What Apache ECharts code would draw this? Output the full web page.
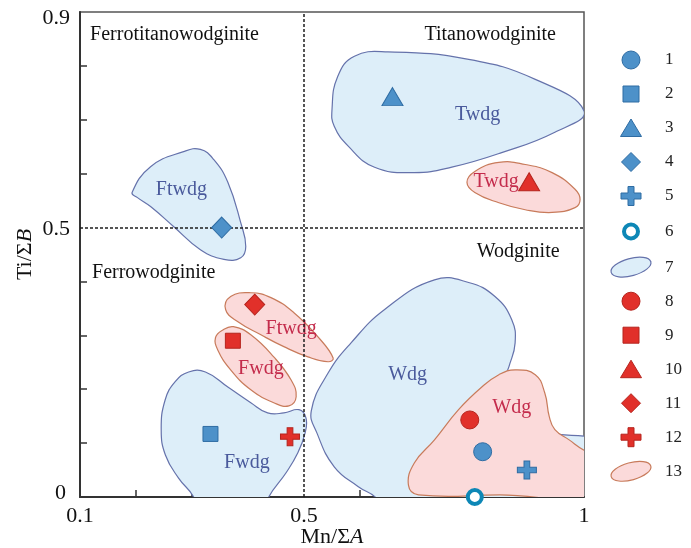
<!DOCTYPE html>
<html>
<head>
<meta charset="utf-8">
<title>Mn/ΣA vs Ti/ΣB</title>
<script src="https://cdn.jsdelivr.net/npm/echarts@6/dist/echarts.min.js"></script>
<style>
  html, body { margin: 0; padding: 0; background: #ffffff; }
  #chart { width: 691px; height: 548px; }
</style>
</head>
<body>
<div id="chart"></div>
<script>
// ---- axis ticks ----
const xLabelTicks = [0.1, 0.5, 1];
const xMinorTicks = [0.2, 0.3, 0.4, 0.6, 0.7, 0.8, 0.9];
const yLabelTicks = [0, 0.5, 0.9];
const yMinorTicks = [0.1, 0.2, 0.3, 0.4, 0.6, 0.7, 0.8];

// ---- field boundaries: Mn/ΣA = 0.5 and Ti/ΣB = 0.5 ----
const dividerX = 0.5;
const dividerY = 0.5;

// ---- analysed compositions [Mn/ΣA, Ti/ΣB] ----
const group1 = [[0.819, 0.084]];
const group2 = [[0.333, 0.117]];
const group3 = [[0.658, 0.743]];
const group4 = [[0.353, 0.500]];
const group5 = [[0.898, 0.050]];
const group6 = [[0.805, 0.000]];
const group8 = [[0.796, 0.143]];
const group9 = [[0.373, 0.290]];
const group10 = [[0.902, 0.585]];
const group11 = [[0.412, 0.357]];
const group12 = [[0.475, 0.112]];

// ---- composition fields, series 7 ----
const field7Names = ['Twdg', 'Ftwdg', 'Fwdg', 'Wdg'];
const field7LabelAt = [[0.810, 0.710], [0.281, 0.571], [0.398, 0.063], [0.685, 0.227]];
const field7Outlines = [
  [[0.550, 0.719], [0.560, 0.780], [0.590, 0.818], [0.650, 0.826], [0.794, 0.812], [0.913, 0.775],
   [1.000, 0.716], [0.948, 0.677], [0.853, 0.639], [0.764, 0.612], [0.697, 0.602], [0.626, 0.612],
   [0.579, 0.651], [0.554, 0.688]],
  [[0.193, 0.565], [0.226, 0.613], [0.285, 0.641], [0.315, 0.645], [0.339, 0.626], [0.364, 0.584],
   [0.387, 0.509], [0.396, 0.465], [0.387, 0.444], [0.357, 0.441], [0.315, 0.459], [0.267, 0.502],
   [0.226, 0.539], [0.202, 0.556]],
  [[0.310, -0.030], [0.303, 0.000], [0.276, 0.035], [0.2525, 0.078], [0.245, 0.125], [0.252, 0.180],
   [0.270, 0.214], [0.294, 0.232], [0.324, 0.232], [0.364, 0.204], [0.405, 0.175], [0.435, 0.156],
   [0.464, 0.156], [0.491, 0.162], [0.5035, 0.147], [0.502, 0.119], [0.489, 0.082], [0.468, 0.045],
   [0.437, 0.000], [0.430, -0.030]],
  [[0.629, -0.002], [0.597, 0.019], [0.554, 0.056], [0.523, 0.119], [0.513, 0.160], [0.543, 0.230],
   [0.584, 0.286], [0.644, 0.348], [0.733, 0.403], [0.794, 0.398], [0.841, 0.372], [0.871, 0.329],
   [0.877, 0.286], [0.866, 0.242], [0.853, 0.199], [0.889, 0.143], [0.943, 0.119], [1.000, 0.113],
   [1.030, 0.110], [1.030, -0.030], [0.640, -0.030]]
];

// ---- composition fields, series 13 ----
const field13Names = ['Twdg', 'Ftwdg', 'Fwdg', 'Wdg'];
const field13LabelAt = [[0.843, 0.585], [0.477, 0.312], [0.423, 0.238], [0.871, 0.165]];
const field13Outlines = [
  [[0.791, 0.584], [0.805, 0.604], [0.848, 0.621], [0.895, 0.617], [0.943, 0.602], [0.984, 0.571],
   [0.993, 0.552], [0.984, 0.537], [0.943, 0.528], [0.895, 0.533], [0.848, 0.546], [0.805, 0.565]],
  [[0.369, 0.372], [0.405, 0.379], [0.441, 0.370], [0.482, 0.342], [0.525, 0.297], [0.552, 0.258],
   [0.543, 0.251], [0.507, 0.260], [0.464, 0.279], [0.423, 0.301], [0.382, 0.325], [0.360, 0.348]],
  [[0.355, 0.310], [0.374, 0.316], [0.405, 0.301], [0.446, 0.260], [0.477, 0.217], [0.486, 0.186],
   [0.473, 0.169], [0.446, 0.175], [0.405, 0.199], [0.369, 0.236], [0.346, 0.273], [0.342, 0.296]],
  [[0.6865, 0.022], [0.697, 0.063], [0.733, 0.106], [0.776, 0.162], [0.8175, 0.204], [0.848, 0.227],
   [0.877, 0.236], [0.913, 0.227], [0.930, 0.193], [0.938, 0.149], [0.948, 0.125], [0.9735, 0.106],
   [1.000, 0.087], [1.030, 0.075], [1.030, 0.004], [0.850, 0.004], [0.7045, 0.004]]
];

// ---- quadrant names ----
const quadrantNames = ['Ferrotitanowodginite', 'Titanowodginite', 'Ferrowodginite', 'Wodginite'];
const quadrantAt = [[0.118, 0.857], [0.715, 0.857], [0.1215, 0.416], [0.8085, 0.455]];

// ---- styling ----
const FONT = '"Liberation Serif", "Times New Roman", serif';
const BLUE = '#4d91c9', BLUE_EDGE = '#2f6ca3';
const RED = '#e1302a', RED_EDGE = '#b5241d';
const TEAL = '#0d87b6';
const FIELD7 = { fill: '#ddeef9', stroke: '#6572ab', text: '#4a5a9c' };
const FIELD13 = { fill: '#fbdada', stroke: '#c87b5b', text: '#c42c4c' };
const PLUS = 'path://M7,0h6v7h7v6h-7v7h-6v-7h-7v-6h7z';

// legend icons share a 44x19 frame (two leading moves fix the bounds)
const FRAME = 'M0,0 M44,19 ';
const icon = {
  circle: 'path://' + FRAME + 'M13,9.5 a9,9 0 1,0 18,0 a9,9 0 1,0 -18,0 Z',
  square: 'path://' + FRAME + 'M14,1.5 h16 v16 h-16 Z',
  triangle: 'path://' + FRAME + 'M22,0.5 L32.5,18 L11.5,18 Z',
  diamond: 'path://' + FRAME + 'M22,-0.5 L32,9.5 L22,19.5 L12,9.5 Z',
  plus: 'path://' + FRAME + 'M19,0 h6 v6.5 h7 v6 h-7 v6.5 h-6 v-6.5 h-7 v-6 h7 Z',
  ring: 'path://' + FRAME + 'M15,9.5 a7,7 0 1,0 14,0 a7,7 0 1,0 -14,0 Z',
  ellipse: 'path://' + FRAME + 'M2.2,14.8 A20.5,8.5 -15 1,1 41.8,4.2 A20.5,8.5 -15 1,1 2.2,14.8 Z'
};

function fieldRenderer(outlines, names, colors) {
  return function (params, api) {
    const i = params.dataIndex;
    const pts = outlines[i].map(function (p) { return api.coord(p); });
    const at = api.coord([api.value(0), api.value(1)]);
    return {
      type: 'group',
      children: [
        { type: 'polygon', z2: 0, shape: { points: pts, smooth: 0.45 },
          style: { fill: colors.fill, stroke: null } },
        { type: 'polygon', z2: 10, shape: { points: pts, smooth: 0.45 },
          style: { fill: null, stroke: colors.stroke, lineWidth: 1.2 } },
        { type: 'text', z2: 20, x: at[0], y: at[1],
          style: { text: names[i], fill: colors.text, font: '20px ' + FONT,
                   align: 'center', verticalAlign: 'middle' } }
      ]
    };
  };
}

function marker(name, data, symbol, size, fill, edge, edgeWidth) {
  return {
    name: name, type: 'scatter', data: data, z: 6,
    symbol: symbol, symbolSize: size,
    itemStyle: { color: fill, borderColor: edge, borderWidth: edgeWidth, opacity: 1 },
    emphasis: { disabled: true }
  };
}

function fmt(v) {
  return String(Math.round(v * 10) / 10);
}

// end labels of the y axis sit slightly inside the frame
function fmtY(v) {
  const s = fmt(v);
  if (v > 0.85) return '{hi|' + s + '}';
  if (v < 0.05) return '{lo|' + s + '}';
  return '{mid|' + s + '}';
}

const tickFont = { fontFamily: FONT, fontSize: 22, color: '#111' };
const nameRich = {
  n: { fontFamily: FONT, fontSize: 22, color: '#111' },
  i: { fontFamily: FONT, fontSize: 22, color: '#111', fontStyle: 'italic' }
};

const series = [
  {
    name: '7', type: 'custom', z: 1, clip: true,
    data: field7LabelAt,
    itemStyle: { color: FIELD7.fill, borderColor: FIELD7.stroke, borderWidth: 1 },
    renderItem: fieldRenderer(field7Outlines, field7Names, FIELD7)
  },
  {
    name: '13', type: 'custom', z: 2, clip: true,
    data: field13LabelAt,
    itemStyle: { color: FIELD13.fill, borderColor: FIELD13.stroke, borderWidth: 1 },
    renderItem: fieldRenderer(field13Outlines, field13Names, FIELD13)
  },
  {
    name: 'dividers', type: 'line', data: [], z: 3,
    markLine: {
      silent: true, symbol: ['none', 'none'], animation: false,
      label: { show: false },
      lineStyle: { type: [3, 2], color: '#1e1e1e', width: 1.5 },
      emphasis: { disabled: true },
      data: [{ xAxis: dividerX }, { yAxis: dividerY }]
    }
  },
  {
    name: 'fields', type: 'custom', z: 4, clip: true,
    data: quadrantAt,
    renderItem: function (params, api) {
      const at = api.coord([api.value(0), api.value(1)]);
      return {
        type: 'text', x: at[0], y: at[1],
        style: { text: quadrantNames[params.dataIndex], fill: '#111', font: '20px ' + FONT,
                 align: 'left', verticalAlign: 'middle' }
      };
    }
  },
  marker('1', group1, 'circle', 18, BLUE, BLUE_EDGE, 1),
  marker('2', group2, 'rect', 15, BLUE, BLUE_EDGE, 1),
  marker('3', group3, 'triangle', [21, 18], BLUE, BLUE_EDGE, 1),
  marker('4', group4, 'diamond', [20, 21], BLUE, BLUE_EDGE, 1),
  marker('5', group5, PLUS, [19, 18], BLUE, BLUE_EDGE, 1),
  marker('6', group6, 'circle', 14, '#ffffff', TEAL, 4),
  marker('8', group8, 'circle', 18, RED, RED_EDGE, 1),
  marker('9', group9, 'rect', 15, RED, RED_EDGE, 1),
  marker('10', group10, 'triangle', [21, 18], RED, RED_EDGE, 1),
  marker('11', group11, 'diamond', [20, 21], RED, RED_EDGE, 1),
  marker('12', group12, PLUS, [19, 18], RED, RED_EDGE, 1)
];

const blueIcon = { color: BLUE, borderColor: BLUE_EDGE, borderWidth: 1 };
const redIcon = { color: RED, borderColor: RED_EDGE, borderWidth: 1 };

const option = {
  animation: false,
  backgroundColor: '#ffffff',
  grid: {
    left: 80, right: 107, top: 12, bottom: 51,
    show: true, borderColor: '#555', borderWidth: 1.5,
    backgroundColor: 'transparent',
    outerBoundsMode: 'none'
  },
  xAxis: {
    type: 'value', min: 0.1, max: 1, interval: 0.1,
    name: '{n|Mn/Σ}{i|A}', nameLocation: 'middle', nameGap: 29, nameMoveOverlap: false,
    nameTextStyle: { rich: nameRich },
    splitLine: { show: false },
    axisLine: { lineStyle: { color: '#333', width: 2 } },
    axisTick: { inside: true, length: 7, customValues: xMinorTicks, lineStyle: { color: '#333', width: 1.5 } },
    axisLabel: Object.assign({ customValues: xLabelTicks, margin: 8, formatter: fmt }, tickFont)
  },
  yAxis: {
    type: 'value', min: 0, max: 0.9, interval: 0.1,
    name: '{n|Ti/Σ}{i|B}', nameLocation: 'middle', nameGap: 44, nameMoveOverlap: false,
    nameTextStyle: { rich: nameRich },
    splitLine: { show: false },
    axisLine: { lineStyle: { color: '#333', width: 2 } },
    axisTick: { inside: true, length: 7, customValues: yMinorTicks, lineStyle: { color: '#333', width: 1.5 } },
    axisLabel: Object.assign({
      customValues: yLabelTicks, margin: 10, formatter: fmtY,
      rich: {
        hi: Object.assign({ padding: [13, 0, 0, 0] }, tickFont),
        mid: Object.assign({ padding: [3, 0, 0, 0] }, tickFont),
        lo: Object.assign({ padding: [0, 4, 8, 0] }, tickFont)
      }
    }, tickFont)
  },
  legend: {
    orient: 'vertical', left: 607, top: 50, padding: 0,
    itemWidth: 44, itemHeight: 19, itemGap: 14,
    selectedMode: false,
    textStyle: { fontFamily: FONT, fontSize: 17, color: '#222', padding: [0, 0, 0, 7] },
    data: [
      { name: '1', icon: icon.circle, itemStyle: blueIcon },
      { name: '2', icon: icon.square, itemStyle: blueIcon },
      { name: '3', icon: icon.triangle, itemStyle: blueIcon },
      { name: '4', icon: icon.diamond, itemStyle: blueIcon },
      { name: '5', icon: icon.plus, itemStyle: blueIcon },
      { name: '6', icon: icon.ring, itemStyle: { color: '#ffffff', borderColor: TEAL, borderWidth: 4 } },
      { name: '7', icon: icon.ellipse, itemStyle: { color: FIELD7.fill, borderColor: FIELD7.stroke, borderWidth: 1.2 } },
      { name: '8', icon: icon.circle, itemStyle: redIcon },
      { name: '9', icon: icon.square, itemStyle: redIcon },
      { name: '10', icon: icon.triangle, itemStyle: redIcon },
      { name: '11', icon: icon.diamond, itemStyle: redIcon },
      { name: '12', icon: icon.plus, itemStyle: redIcon },
      { name: '13', icon: icon.ellipse, itemStyle: { color: FIELD13.fill, borderColor: FIELD13.stroke, borderWidth: 1.2 } }
    ]
  },
  series: series
};

const chart = echarts.init(document.getElementById('chart'));
chart.setOption(option);
</script>
</body>
</html>
